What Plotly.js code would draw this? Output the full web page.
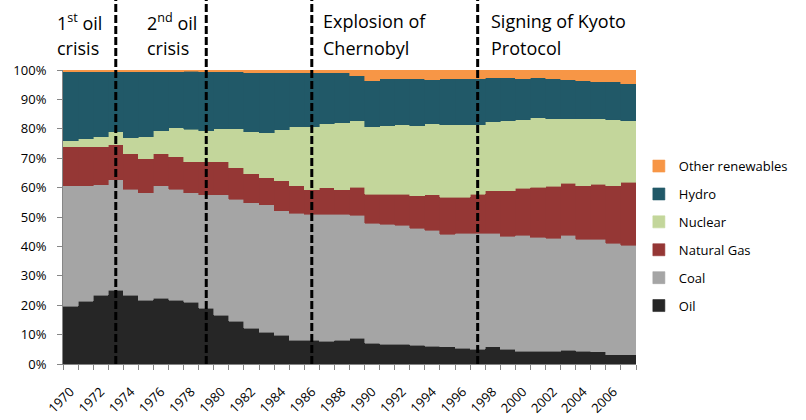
<!DOCTYPE html>
<html>
<head>
<meta charset="utf-8">
<script src="https://cdn.plot.ly/plotly-3.0.1.min.js"></script>
<style>html,body{margin:0;padding:0;background:#fff;}#chart{width:806px;height:420px;}</style>
</head>
<body>
<div id="chart"></div>
<script>
var years = [1970,1971,1972,1973,1974,1975,1976,1977,1978,1979,1980,1981,1982,1983,1984,1985,1986,1987,1988,1989,1990,1991,1992,1993,1994,1995,1996,1997,1998,1999,2000,2001,2002,2003,2004,2005,2006,2007];

var oil = [19.7,21.4,23.4,25.1,23.4,21.7,22.4,21.7,21.0,19.0,16.6,14.6,12.2,10.8,9.8,8.1,8.1,7.8,8.1,8.8,7.1,6.8,6.8,6.4,6.1,5.8,5.4,5.1,5.8,5.1,4.4,4.4,4.4,4.7,4.4,4.1,3.1,3.1];
var coal = [40.9,39.2,37.5,37.5,36.1,36.5,38.2,37.8,37.2,38.5,40.9,41.5,42.6,43.3,42.4,43.1,42.8,43.1,42.8,41.8,40.7,40.7,40.4,39.7,39.4,38.3,39.1,39.4,38.7,38.3,39.4,38.7,38.4,39.1,38.0,38.3,37.9,37.3];
var naturalGas = [13.3,13.3,13.0,11.9,12.0,11.6,10.9,11.0,10.6,11.3,11.3,10.6,9.9,9.2,10.1,9.4,8.3,9.0,8.3,9.6,10.0,10.3,10.6,11.1,12.0,12.7,12.3,13.3,14.4,15.6,15.9,17.0,17.6,17.6,18.3,18.7,19.7,21.4];
var nuclear = [2.0,2.7,3.4,4.5,5.4,7.5,7.8,9.8,11.0,10.5,11.2,13.3,14.3,15.3,17.4,20.1,21.5,21.8,22.8,22.5,22.9,23.2,23.6,23.8,24.2,24.6,24.6,23.6,23.5,23.8,23.4,23.7,23.1,22.1,22.8,22.4,22.4,21.0];
var hydro = [23.5,22.8,22.1,20.4,22.5,22.1,20.1,19.1,19.7,20.1,19.4,19.4,20.1,20.5,19.4,18.4,18.4,17.4,17.1,15.4,15.7,16.0,15.6,16.0,15.0,15.6,15.6,15.6,15.0,14.6,13.9,13.6,13.5,13.2,12.9,12.5,12.9,12.6];
var otherRenewables = [0.6,0.6,0.6,0.6,0.6,0.6,0.6,0.6,0.6,0.6,0.6,0.6,0.9,0.9,0.9,0.9,0.9,0.9,0.9,1.9,3.6,3.0,3.0,3.0,3.3,3.0,3.0,3.0,2.6,2.6,3.0,2.6,3.0,3.3,3.6,4.0,4.0,4.6];

var seriesNames = ["Oil","Coal","Natural Gas","Nuclear","Hydro","Other renewables"];
var seriesColors = ["#262626","#A5A5A5","#953735","#C3D69B","#215968","#F79646"];
var seriesData = [oil, coal, naturalGas, nuclear, hydro, otherRenewables];

var tickYears = [1970,1972,1974,1976,1978,1980,1982,1984,1986,1988,1990,1992,1994,1996,1998,2000,2002,2004,2006];
var tickLabels = tickYears.map(String);

var eventYears = [1973, 1979, 1986, 1997];
var eventLine1 = ["1<sup>st</sup> oil", "2<sup>nd</sup> oil", "Explosion of", "Signing of Kyoto"];
var eventLine2 = ["crisis", "crisis", "Chernobyl", "Protocol"];
var eventLabelX = [55, 145, 321, 489];

var traces = seriesData.map(function(d, i){
  return {
    type: "bar", x: years, y: d, name: seriesNames[i],
    legendgroup: "g" + i, legendrank: seriesNames.length - i,
    marker: {color: seriesColors[i], line: {width: 0.6, color: seriesColors[i]}},
    hoverinfo: "x+y+name"
  };
});

var L = 63, R = 170, T = 70, B = 56;
var W = 806, H = 420;
var pw = W - L - R, ph = H - T - B;

var shapes = eventYears.map(function(yr){
  return {type: "line", xref: "x", yref: "paper", x0: yr, x1: yr, y0: 0, y1: (H - B) / ph,
    line: {color: "#000", width: 3, dash: "8px,3px"}};
});

var annotations = [];
eventLine1.forEach(function(t, i){
  annotations.push({xref: "paper", yref: "paper", x: (eventLabelX[i] - L) / pw, y: (H - B - 7) / ph,
    xanchor: "left", yanchor: "top", align: "left", showarrow: false, text: t,
    font: {family: "Open Sans", size: 18, color: "#000"}});
  annotations.push({xref: "paper", yref: "paper", x: (eventLabelX[i] - L) / pw, y: (H - B - 34) / ph,
    xanchor: "left", yanchor: "top", align: "left", showarrow: false, text: eventLine2[i],
    font: {family: "Open Sans", size: 18, color: "#000"}});
});

var layout = {
  width: W, height: H,
  margin: {l: L, r: R, t: T, b: B, pad: 0},
  paper_bgcolor: "#fff", plot_bgcolor: "#fff",
  barmode: "stack", bargap: 0,
  font: {family: "Open Sans", size: 13, color: "#000"},
  xaxis: {
    type: "linear", range: [1969.5, 2007.5],
    tickmode: "array", tickvals: tickYears, ticktext: tickLabels, tickangle: -45,
    ticks: "outside", ticklen: 0, ticklabelstandoff: 14,
    minor: {ticks: "outside", tick0: 1969.5, dtick: 1, ticklen: 5, tickcolor: "#868686", tickwidth: 1, showgrid: false},
    showline: true, linecolor: "#868686", linewidth: 1,
    showgrid: false, zeroline: false, fixedrange: true,
    tickfont: {family: "Open Sans", size: 13, color: "#000"}
  },
  yaxis: {
    range: [0, 100], dtick: 10, ticksuffix: "%",
    ticks: "outside", ticklen: 5, tickcolor: "#868686", ticklabelstandoff: 8,
    showline: true, linecolor: "#868686", linewidth: 1,
    showgrid: false, zeroline: false, fixedrange: true,
    tickfont: {family: "Open Sans", size: 13, color: "#000"}
  },
  legend: {
    x: 1.005, xanchor: "left", y: 0.435, yanchor: "middle",
    traceorder: "grouped", tracegroupgap: 8,
    font: {family: "Open Sans", size: 13, color: "#000"},
    bgcolor: "rgba(0,0,0,0)"
  },
  shapes: shapes,
  annotations: annotations,
  showlegend: true
};

Plotly.newPlot("chart", traces, layout, {displayModeBar: false, staticPlot: true});
</script>
</body>
</html>
